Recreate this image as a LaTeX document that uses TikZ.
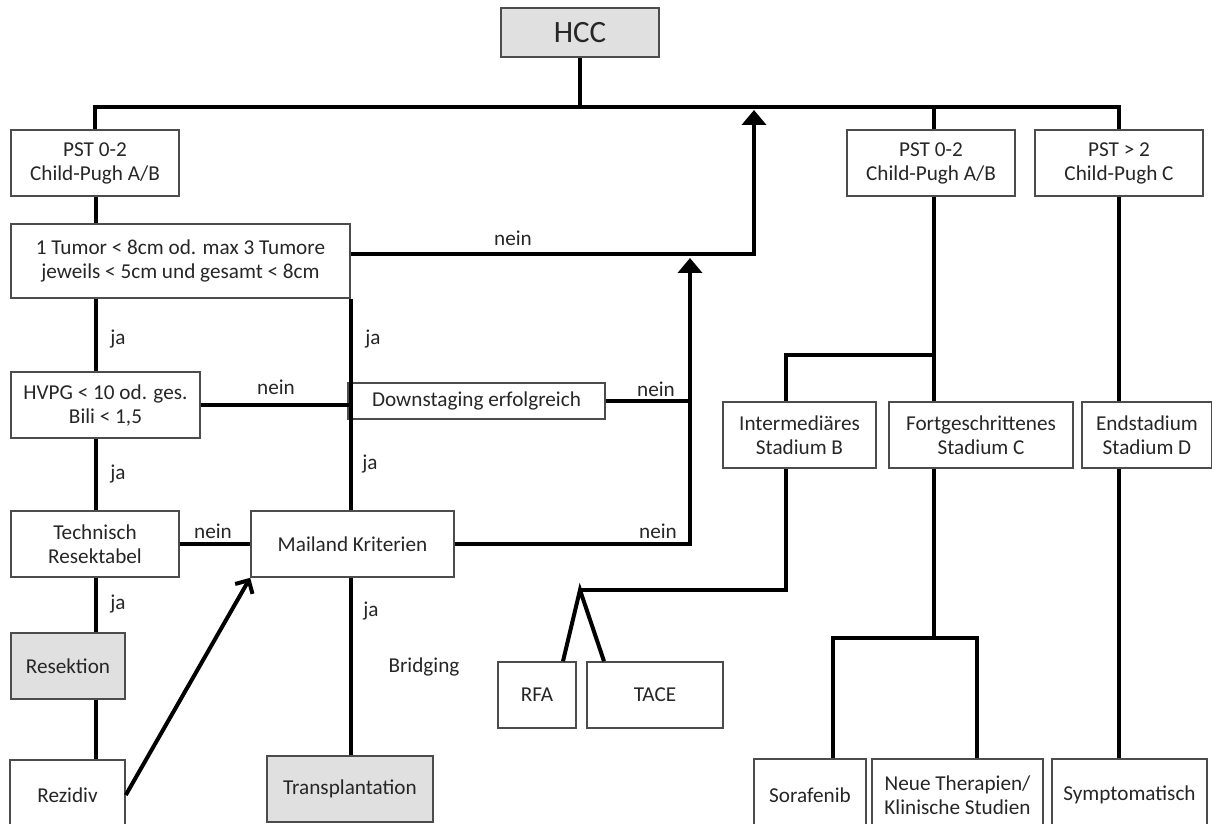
\documentclass[tikz,border=0pt]{standalone}
\usepackage{fontspec}
\setmainfont{Carlito}
\usetikzlibrary{arrows.meta}

\tikzset{
    box/.style={draw=black!70, line width=0.8pt, align=center, inner sep=0pt,
        text=black!85, font=\fontsize{10.6}{12}\selectfont},
    grey/.style={box, fill=black!12},
    conn/.style={line width=2pt},
    up/.style={-{Triangle[width=12pt,length=7.5pt]}},
    lbl/.style={text=black!85, font=\fontsize{10.6}{12}\selectfont, inner sep=0pt}
}

\begin{document}
\begin{tikzpicture}[x=0.5pt, y=-0.5pt]
        \useasboundingbox (0,0) rectangle (1212,824);
        \clip (0,0) rectangle (1212,824);

        \node[grey, minimum width=79pt, minimum height=24.5pt, font=\fontsize{15.5}{18}\selectfont] (hcc) at (580, 32.5) {HCC};

        \node[box, minimum width=84pt, minimum height=33pt] (pstl) at (95, 163) {PST 0-2\\Child-Pugh A/B};
        \node[box, minimum width=84pt, minimum height=33pt] (pstm) at (931, 163) {PST 0-2\\Child-Pugh A/B};
        \node[box, minimum width=84pt, minimum height=33pt] (pstr) at (1119, 163) {PST > 2\\Child-Pugh C};

        \node[box, minimum width=169.5pt, minimum height=37pt] (tumor) at (180.5, 261) {1 Tumor < 8cm od. max 3 Tumore\\jeweils < 5cm und gesamt < 8cm};
        \node[box, minimum width=94.5pt, minimum height=33pt] (hvpg) at (105.5, 405) {HVPG < 10 od. ges.\\Bili < 1,5};
        \node[box, minimum width=128.5pt, minimum height=18pt] (down) at (476.5, 401) {Downstaging erfolgreich};
        \node[box, minimum width=84pt, minimum height=33pt] (tech) at (95, 544) {Technisch\\Resektabel};
        \node[box, minimum width=101.5pt, minimum height=33pt] (mail) at (352.5, 544) {Mailand Kriterien};
        \node[grey, minimum width=57pt, minimum height=33pt] (resek) at (68, 666) {Resektion};
        \node[box, minimum width=57.5pt, minimum height=35pt] (rezid) at (67.5, 795) {Rezidiv};
        \node[grey, minimum width=83pt, minimum height=33pt] (trans) at (350, 789) {Transplantation};

        \node[box, minimum width=76.5pt, minimum height=33pt] (interm) at (799.5, 435) {Intermediäres\\Stadium B};
        \node[box, minimum width=92pt, minimum height=33pt] (fort) at (981, 435) {Fortgeschrittenes\\Stadium C};
        \node[box, minimum width=65pt, minimum height=33pt] (endst) at (1147, 435) {Endstadium\\Stadium D};
        \node[box, minimum width=39pt, minimum height=33pt] (rfa) at (537, 695) {RFA};
        \node[box, minimum width=68pt, minimum height=33pt] (tace) at (655, 695) {TACE};
        \node[box, minimum width=56pt, minimum height=36pt] (soraf) at (810, 795) {Sorafenib};
        \node[box, minimum width=85.5pt, minimum height=36pt] (neue) at (957.5, 795) {Neue Therapien/\\Klinische Studien};
        \node[box, minimum width=77.5pt, minimum height=36pt] (sympt) at (1129.5, 795) {Symptomatisch};

        \coordinate (bus) at (580, 107);
        \coordinate (lcol) at (96, 0);
        \coordinate (mcol) at (934, 0);
        \coordinate (top1) at (754, 110);
        \coordinate (top2) at (690, 258);
        \coordinate (bjoin) at (934, 355);
        \coordinate (icol) at (786, 0);
        \coordinate (fork) at (580, 590);
        \coordinate (fjoin) at (934, 638);

        % top level
        \draw[conn] (hcc.south) -- (bus);
        \draw[conn] (pstl.north) |- (pstr.north |- bus) -- (pstr.north);
        \draw[conn] (mcol |- bus) -- (mcol |- pstm.north);

        % left branch
        \draw[conn] (lcol |- pstl.south) -- (lcol |- tumor.north);
        \draw[conn] (lcol |- tumor.south) -- (lcol |- hvpg.north);
        \draw[conn] (lcol |- hvpg.south) -- (lcol |- tech.north);
        \draw[conn] (lcol |- tech.south) -- (lcol |- resek.north);
        \draw[conn] (lcol |- resek.south) -- (lcol |- rezid.north);
        \draw[conn, up] ([yshift=3.5pt]tumor.east) -| (top1);
        \draw[conn] (tumor.south east) -- (tumor.south east |- mail.north);
        \draw[conn] (hvpg.east) -- (hvpg.east -| tumor.south east);
        \draw[conn] (down.east) -- (down.east -| top2);
        \draw[conn, up] (mail.east) -| (top2);
        \draw[conn] (tech.east) -- (mail.west);
        \draw[conn, -{Straight Barb[length=5pt,width=10pt]}] (rezid.east) -- (mail.south west);
        \draw[conn] (tumor.south east |- mail.south) -- (tumor.south east |- trans.north);

        % right branch
        \draw[conn] (mcol |- pstm.south) -- (mcol |- fort.north);
        \draw[conn] (bjoin) -| (icol |- interm.north);
        \draw[conn] (icol |- interm.south) |- (fork);
        \draw[conn] ([xshift=13pt]rfa.north) -- (fork) -- ([xshift=-25.5pt]tace.north);
        \draw[conn] (mcol |- fort.south) -- (fjoin);
        \draw[conn] ([xshift=11.5pt]soraf.north) |- (fjoin) -| ([xshift=9.75pt]neue.north);
        \draw[conn] (pstr.south) -- (pstr.south |- endst.north);
        \draw[conn] (pstr.south |- endst.south) -- (pstr.south |- sympt.north);

        % labels
        \node[lbl] (n1) at (513, 238) {nein};
        \node[lbl] (n2) at (276, 387) {nein};
        \node[lbl] (n3) at (656, 389) {nein};
        \node[lbl] (n4) at (213, 531) {nein};
        \node[lbl] (n5) at (658, 531) {nein};
        \node[lbl] (j1) at (118, 339) {ja};
        \node[lbl] (j2) at (373, 339) {ja};
        \node[lbl] (j3) at (118, 474) {ja};
        \node[lbl] (j4) at (370, 464) {ja};
        \node[lbl] (j5) at (118, 604) {ja};
        \node[lbl] (j6) at (371, 611) {ja};
        \node[lbl] (brid) at (424, 667) {Bridging};
    \end{tikzpicture}
\end{document}
